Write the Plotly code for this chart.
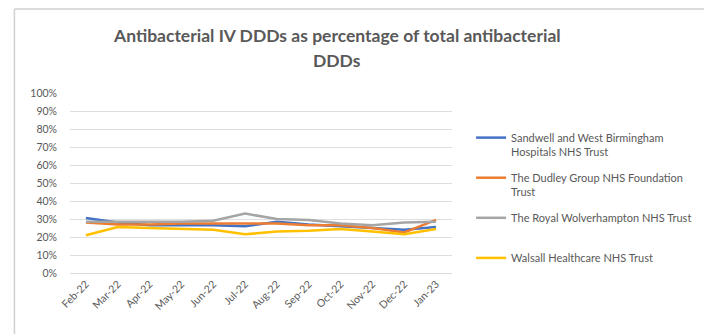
import plotly.graph_objects as go

months = ["Feb-22", "Mar-22", "Apr-22", "May-22", "Jun-22", "Jul-22",
          "Aug-22", "Sep-22", "Oct-22", "Nov-22", "Dec-22", "Jan-23"]

sandwell = [0.305, 0.280, 0.265, 0.265, 0.265, 0.260, 0.285, 0.270, 0.260, 0.250, 0.240, 0.255]
dudley = [0.280, 0.270, 0.270, 0.275, 0.275, 0.275, 0.275, 0.265, 0.265, 0.250, 0.225, 0.295]
royal = [0.285, 0.285, 0.285, 0.285, 0.290, 0.330, 0.300, 0.295, 0.275, 0.265, 0.280, 0.285]
walsall = [0.210, 0.255, 0.250, 0.245, 0.240, 0.215, 0.230, 0.235, 0.245, 0.230, 0.215, 0.245]

series = [
    ("Sandwell and West Birmingham<br>Hospitals NHS Trust", sandwell, "#4472C4"),
    ("The Dudley Group NHS Foundation<br>Trust", dudley, "#ED7D31"),
    ("The Royal Wolverhampton NHS Trust<br> ", royal, "#A5A5A5"),
    ("Walsall Healthcare NHS Trust<br> ", walsall, "#FFC000"),
]

y_ticks = [i / 10 for i in range(11)]
y_labels = [f"{i * 10}%" for i in range(11)]

TITLE_L1 = "Antibacterial IV DDDs as percentage of total antibacterial"
TITLE_L2 = "DDDs"

FONT = "Lato"
GREY = "#595959"

fig = go.Figure()
for i, (name, vals, col) in enumerate(series):
    fig.add_trace(go.Scatter(
        x=months, y=vals, mode="lines", name=name,
        line=dict(color=col, width=2.5), legendgroup=f"g{i}",
    ))

PW, PH = 385, 180

def px_x(x):
    return (x - 70) / PW

def px_y(y):
    return (273 - y) / PH

fig.update_layout(
    width=709, height=334,
    margin=dict(l=70, r=254, t=93, b=61),
    paper_bgcolor="white", plot_bgcolor="white",
    font=dict(family=FONT, color=GREY, size=10),
    xaxis=dict(
        type="category", tickangle=-45, showgrid=False,
        showline=True, linecolor="#D9D9D9", linewidth=1,
        ticks="", tickfont=dict(size=10.5, color=GREY),
        range=[-0.5, len(months) - 0.5],
    ),
    yaxis=dict(
        range=[0, 1.0], tickvals=y_ticks, ticktext=y_labels,
        showgrid=True, gridcolor="#DEDEDE", gridwidth=1,
        zeroline=False, showline=False, ticks="",
        tickfont=dict(size=10.5, color=GREY),
        ticklabelstandoff=12,
    ),
    legend=dict(
        x=1.05, xanchor="left", y=0.828, yanchor="top",
        valign="top", tracegroupgap=8.5,
        font=dict(size=11, color=GREY, family=FONT),
        bgcolor="rgba(0,0,0,0)",
    ),
    annotations=[
        dict(text=f"<b>{TITLE_L1}</b>", xref="paper", yref="paper",
             x=px_x(339), y=px_y(35), xanchor="center", yanchor="middle",
             showarrow=False, font=dict(family=FONT, size=17.5, color=GREY)),
        dict(text=f"<b>{TITLE_L2}</b>", xref="paper", yref="paper",
             x=px_x(339), y=px_y(60), xanchor="center", yanchor="middle",
             showarrow=False, font=dict(family=FONT, size=17.5, color=GREY)),
    ],
    shapes=[
        dict(type="line", xref="paper", yref="paper",
             x0=px_x(14), x1=px_x(709), y0=px_y(9), y1=px_y(9),
             line=dict(color="#D0D0D0", width=1.5)),
        dict(type="line", xref="paper", yref="paper",
             x0=px_x(14), x1=px_x(14), y0=px_y(9), y1=px_y(334),
             line=dict(color="#D0D0D0", width=1.5)),
    ],
)

fig.write_html("out.html")
